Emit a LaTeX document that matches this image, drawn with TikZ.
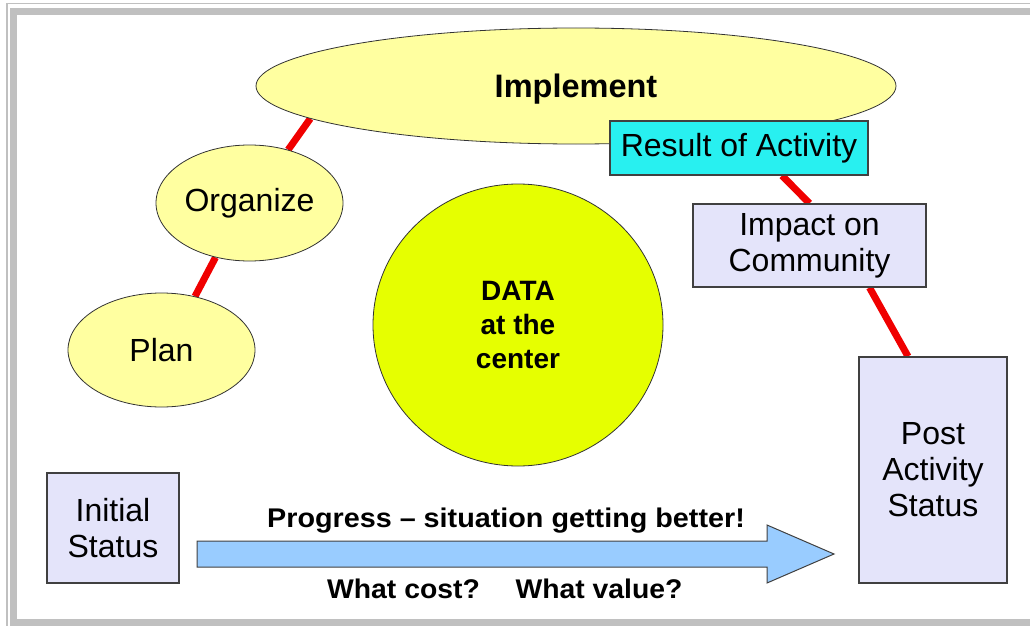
\documentclass[tikz,border=0pt]{standalone}
\usepackage{fontspec}
\setmainfont{Liberation Sans}
\usepackage{graphicx}
\usetikzlibrary{shapes.geometric,backgrounds}
\definecolor{framegrey}{RGB}{192,192,192}
\definecolor{paleyellow}{RGB}{255,255,160}
\definecolor{limeyellow}{RGB}{230,255,0}
\definecolor{cyanbox}{RGB}{40,240,240}
\definecolor{lavender}{RGB}{228,228,250}
\definecolor{arrowblue}{RGB}{153,204,255}
\definecolor{linkred}{RGB}{240,0,0}
\begin{document}
\begin{tikzpicture}[x=1pt,y=-1pt,
  ovalnode/.style={ellipse, draw=black!80, line width=0.8pt, fill=paleyellow, inner sep=0pt,
    font=\fontsize{32}{36}\selectfont},
  boxnode/.style={rectangle, draw=black!75, line width=1.2pt, inner sep=0pt, align=center,
    font=\fontsize{32}{36}\selectfont},
  link/.style={draw=linkred, line width=7pt},
  boldtext/.style={inner sep=0pt, anchor=base, font=\bfseries\fontsize{27}{32}\selectfont}]
\useasboundingbox (0,0) rectangle (1030,626);
\clip (0,0) rectangle (1030,626);
% frame
\draw[framegrey, line width=1.5pt] (6.8,3.5) rectangle (1060,640);
\draw[framegrey, line width=7pt] (13.7,11.7) rectangle (1050,622.5);
% nodes
\node[ovalnode, minimum width=640pt, minimum height=116pt, text height=22pt, text depth=0pt,
  font=\bfseries\fontsize{32.5}{36}\selectfont] (impl) at (576,86) {Implement};
\node[ovalnode, minimum width=187pt, minimum height=116pt] (org) at (249.5,203) {Organize};
\node[ovalnode, minimum width=187pt, minimum height=114pt] (plan) at (161.5,350) {Plan};
\node[boxnode, fill=cyanbox, minimum width=258pt, minimum height=54pt] (res) at (739,148) {Result of Activity};
\node[boxnode, fill=lavender, minimum width=233pt, minimum height=83pt] (imp) at (809.5,245.5) {Impact on\\Community};
\node[boxnode, fill=lavender, minimum width=148pt, minimum height=226pt] (post) at (933,470) {Post\\Activity\\Status};
\node[boxnode, fill=lavender, minimum width=132pt, minimum height=110pt] (init) at (113,528) {Initial\\Status};
\node[ellipse, draw=black!80, line width=0.8pt, fill=limeyellow, minimum width=290pt, minimum height=282pt,
  inner sep=0pt, align=center, font=\bfseries\fontsize{28}{34}\selectfont] (data) at (518,325) {DATA\\at the\\center};
% red links
\begin{scope}[on background layer]
\draw[link] (impl.187.8) -- (org.54);
\draw[link] (org.238) -- (plan.58);
\draw[link] ([xshift=43pt]res.south) -- (imp.north);
\draw[link] ([xshift=60pt]imp.south) -- ([xshift=-25pt]post.north);
\end{scope}
% progress arrow
\draw[fill=arrowblue, draw=black!75, line width=1pt]
  (197,541) -- (767,541) -- (767,525) -- (834,554) -- (767,583) -- (767,567) -- (197,567) -- cycle;
\node[boldtext] (prog) at (506,527)
  {\scalebox{1.065}[1]{Progress – situation getting better!}};
\node[boldtext] (cost) at (403.5,598)
  {\scalebox{1.05}[1]{What cost?}};
\node[boldtext] (value) at (599,598)
  {\scalebox{1.05}[1]{What value?}};
\end{tikzpicture}
\end{document}
